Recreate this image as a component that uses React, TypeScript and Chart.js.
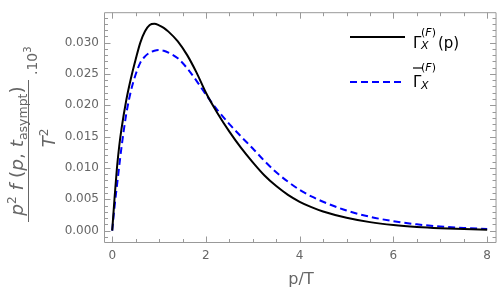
import React, { useEffect, useRef } from "react";
import { Chart, registerables } from "chart.js";

Chart.register(...registerables);

// p/T sample points
const pOverT = [0, 0.05, 0.1, 0.15, 0.2, 0.3, 0.4, 0.5, 0.6, 0.7, 0.8, 0.9, 1.0, 1.1, 1.2, 1.4, 1.6, 1.8, 2.0, 2.25, 2.5, 2.75, 3.0, 3.25, 3.5, 3.75, 4.0, 4.25, 4.5, 5.0, 5.5, 6.0, 6.5, 7.0, 7.5, 8.0];
// Γ_X^(F)(p)  (black, solid)
const gammaX = [0, 0.0052, 0.0099, 0.0135, 0.0163, 0.0208, 0.0243, 0.0273, 0.0300, 0.0318, 0.0328, 0.0330, 0.03275, 0.03235, 0.03175, 0.0302, 0.0280, 0.0252, 0.0220, 0.0187, 0.0158, 0.0132, 0.0109, 0.0088, 0.0071, 0.0057, 0.0046, 0.00375, 0.00305, 0.00205, 0.00135, 0.00088, 0.00057, 0.00037, 0.00024, 0.00015];
// overline Γ_X^(F)  (blue, dashed)
const gammaXBar = [0, 0.0038, 0.0071, 0.0103, 0.0134, 0.0186, 0.0223, 0.0249, 0.0268, 0.0278, 0.0284, 0.0287, 0.0288, 0.0287, 0.0284, 0.0275, 0.0259, 0.0239, 0.0217, 0.0192, 0.0170, 0.0150, 0.0131, 0.0111, 0.0093, 0.0078, 0.0065, 0.00545, 0.0046, 0.0032, 0.0022, 0.0015, 0.0010, 0.00065, 0.00042, 0.00027];

const xTickValues = [0, 2, 4, 6, 8];
const yTickValues = [0, 0.005, 0.01, 0.015, 0.02, 0.025, 0.03];
const xMinorStep = 0.5;
const yMinorStep = 0.001;

const FRAME = "#999999";
const LABEL = "#666666";
const FONT = "'DejaVu Sans', sans-serif";

const frameTicks = {
  id: "frameTicks",
  beforeDatasetsDraw(chart: any) {
    const { ctx, chartArea: a, scales } = chart;
    const xs = scales.x;
    const ys = scales.y;
    const L = a.left + 0.5;
    const R = a.right - 0.5;
    const T = a.top + 0.5;
    const B = a.bottom + 0.5;
    ctx.save();
    ctx.strokeStyle = FRAME;
    ctx.lineWidth = 1;
    ctx.beginPath();
    ctx.rect(L, T, R - L, B - T);
    ctx.stroke();
    ctx.beginPath();
    const isMajor = (arr: number[], v: number) => arr.some((t) => Math.abs(t - v) < 1e-9);
    const x0 = Math.ceil(xs.min / xMinorStep);
    const x1 = Math.floor(xs.max / xMinorStep);
    for (let i = x0; i <= x1; i++) {
      const v = i * xMinorStep;
      const len = isMajor(xTickValues, v) ? 6 : 3.5;
      const px = Math.round(xs.getPixelForValue(v)) + 0.5;
      ctx.moveTo(px, B);
      ctx.lineTo(px, B - len);
      ctx.moveTo(px, T);
      ctx.lineTo(px, T + len);
    }
    const y0 = Math.ceil(ys.min / yMinorStep);
    const y1 = Math.floor(ys.max / yMinorStep);
    for (let i = y0; i <= y1; i++) {
      const v = i * yMinorStep;
      const len = isMajor(yTickValues, v) ? 6 : 3.5;
      const py = Math.round(ys.getPixelForValue(v)) + 0.5;
      ctx.moveTo(L, py);
      ctx.lineTo(L + len, py);
      ctx.moveTo(R, py);
      ctx.lineTo(R - len, py);
    }
    ctx.stroke();
    ctx.restore();
  },
};

export default function App() {
  const canvasRef = useRef<HTMLCanvasElement | null>(null);

  useEffect(() => {
    document.body.style.margin = "0";
    const canvas = canvasRef.current;
    if (!canvas) return;
    const chart = new Chart(canvas, {
      type: "line",
      data: {
        datasets: [
          {
            label: "gammaX",
            data: pOverT.map((p, i) => ({ x: p, y: gammaX[i] })),
            borderColor: "#000000",
            borderWidth: 2,
            pointRadius: 0,
            fill: false,
            cubicInterpolationMode: "monotone",
          },
          {
            label: "gammaXBar",
            data: pOverT.map((p, i) => ({ x: p, y: gammaXBar[i] })),
            borderColor: "#0000ff",
            borderWidth: 2,
            borderDash: [7, 4],
            pointRadius: 0,
            fill: false,
            cubicInterpolationMode: "monotone",
          },
        ],
      },
      options: {
        animation: false,
        responsive: false,
        devicePixelRatio: 1,
        layout: { padding: { left: 0, right: 1, top: 0, bottom: 0 } },
        plugins: { legend: { display: false }, tooltip: { enabled: false } },
        scales: {
          x: {
            type: "linear",
            min: -0.175,
            max: 8.2,
            grid: { display: false, drawTicks: false },
            border: { display: false },
            afterBuildTicks: (s: any) => {
              s.ticks = xTickValues.map((v) => ({ value: v }));
            },
            afterFit: (s: any) => {
              s.height = 58;
            },
            ticks: {
              color: LABEL,
              font: { family: FONT, size: 12 },
              padding: 7,
              maxRotation: 0,
              autoSkip: false,
              callback: (v: any) => String(v),
            },
          },
          y: {
            type: "linear",
            min: -0.00182,
            max: 0.03485,
            grid: { display: false, drawTicks: false },
            border: { display: false },
            afterBuildTicks: (s: any) => {
              s.ticks = yTickValues.map((v) => ({ value: v }));
            },
            afterFit: (s: any) => {
              s.width = 104;
            },
            ticks: {
              color: LABEL,
              font: { family: FONT, size: 12 },
              padding: 5,
              autoSkip: false,
              callback: (v: any) => Number(v).toFixed(3),
            },
          },
        },
      },
      plugins: [frameTicks],
    } as any);
    return () => chart.destroy();
  }, []);

  return (
    <div style={{ position: "relative", width: 498, height: 300 }}>
      <canvas ref={canvasRef} width={498} height={300} style={{ display: "block" }} />
      <svg
        width={498}
        height={300}
        style={{ position: "absolute", left: 0, top: 0, pointerEvents: "none" }}
        fontFamily="DejaVu Sans, sans-serif"
      >
        {/* y axis title, rotated */}
        <g transform="translate(28,222) rotate(-90)" fill={LABEL}>
          <line x1={0} y1={0.5} x2={142} y2={0.5} stroke={LABEL} strokeWidth={1} />
          <text x={71} y={-5} textAnchor="middle" fontSize={18.5}>
            <tspan fontStyle="italic">p</tspan>
            <tspan dy={-7} fontSize={12}>2</tspan>
            <tspan dy={7}>{" "}</tspan>
            <tspan fontStyle="italic">f</tspan>
            <tspan>{" ("}</tspan>
            <tspan fontStyle="italic">p</tspan>
            <tspan>{", "}</tspan>
            <tspan fontStyle="italic">t</tspan>
            <tspan dy={4} fontSize={12.5}>asympt</tspan>
            <tspan dy={-4}>)</tspan>
          </text>
          <text x={84} y={27} textAnchor="middle" fontSize={18}>
            <tspan fontStyle="italic">T</tspan>
            <tspan dy={-7} fontSize={12}>2</tspan>
          </text>
          <text x={147} y={9} fontSize={14}>
            <tspan>.10</tspan>
            <tspan dy={-6} fontSize={10}>3</tspan>
          </text>
        </g>
        {/* x axis title */}
        <text x={301} y={284} textAnchor="middle" fontSize={16} fill={LABEL}>
          p/T
        </text>
        {/* legend */}
        <line x1={350} y1={37} x2={405} y2={37} stroke="#000" strokeWidth={2} />
        <text x={413} y={48} fontSize={15} fill="#000">Γ</text>
        <text x={421} y={35.5} fontSize={11} fill="#000">
          <tspan>(</tspan>
          <tspan fontStyle="italic">F</tspan>
          <tspan>)</tspan>
        </text>
        <text x={421} y={48.5} fontSize={11} fontStyle="italic" fill="#000">X</text>
        <text x={438} y={48} fontSize={15} fill="#000">(p)</text>

        <line x1={350} y1={82} x2={402} y2={82} stroke="#0000ff" strokeWidth={2} strokeDasharray="7,4" />
        <line x1={413} y1={68} x2={422} y2={68} stroke="#000" strokeWidth={1.2} />
        <text x={413} y={86.5} fontSize={15} fill="#000">Γ</text>
        <text x={421} y={71} fontSize={11} fill="#000">
          <tspan>(</tspan>
          <tspan fontStyle="italic">F</tspan>
          <tspan>)</tspan>
        </text>
        <text x={421} y={88.5} fontSize={11} fontStyle="italic" fill="#000">X</text>
      </svg>
    </div>
  );
}
